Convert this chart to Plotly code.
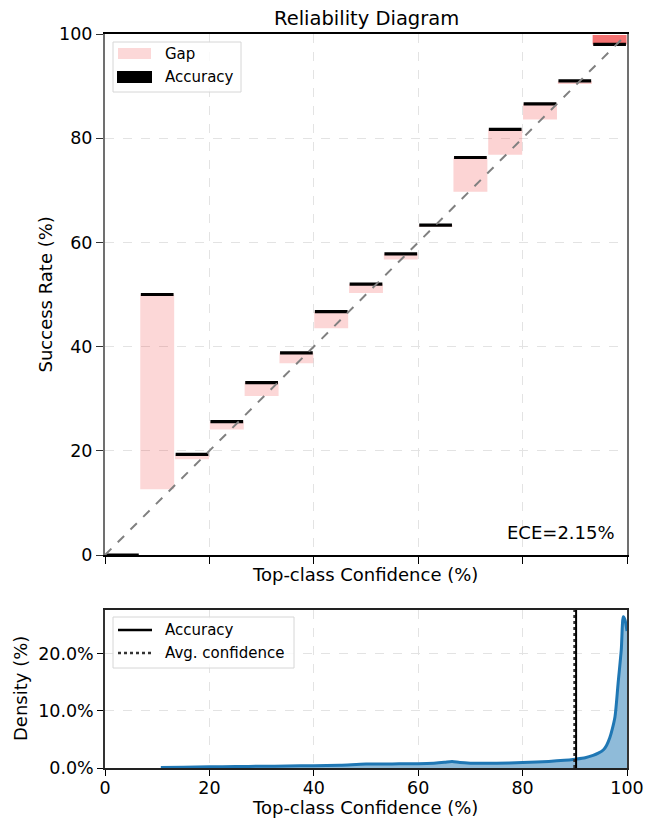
import plotly.graph_objects as go

# ---------------- data ----------------
n_bins = 15
bin_accuracy = [0.0, 50.0, 19.3, 25.6, 33.1, 38.8, 46.7, 52.0, 57.8, 63.3, 76.3, 81.7, 86.6, 91.0, 98.0]
bin_confidence = [0.0, 12.6, 18.4, 24.1, 30.5, 36.8, 43.5, 50.3, 56.7, 63.0, 69.7, 76.8, 83.6, 90.4, 99.8]
bin_fraction = [0.0, 0.002, 0.003, 0.004, 0.005, 0.006, 0.008, 0.012, 0.015, 0.02,
                0.025, 0.03, 0.04, 0.08, 0.65]
ece_text = "ECE=2.15%"

density_x = [10.7, 15, 20, 25, 30, 35, 40, 45, 50, 55, 60, 63, 65, 66.5, 68, 70, 75, 80,
             85, 88, 90, 92, 93.5, 94.5, 95.5, 96.1, 96.7, 97.2, 97.7, 98.3, 98.9, 99.3, 99.6, 100]
density_y = [0.1, 0.15, 0.2, 0.25, 0.3, 0.35, 0.4, 0.5, 0.7, 0.72, 0.75, 0.85, 1.0, 1.15,
             0.95, 0.85, 0.85, 0.95, 1.15, 1.35, 1.55, 1.8, 2.2, 2.6, 3.2, 4.0, 5.3, 6.9,
             9.0, 14.9, 20.7, 26.5, 26.0, 24.0]
overall_accuracy = 90.25
avg_confidence = 89.95

x_ticks = [0, 20, 40, 60, 80, 100]
y_ticks_top = [0, 20, 40, 60, 80, 100]
y_ticks_bottom = [0, 10, 20]
y_ticklabels_bottom = ["0.0%", "10.0%", "20.0%"]

# ---------------- derived ----------------
bw = 100.0 / n_bins
centers = [bw * (i + 0.5) for i in range(n_bins)]
gap_height = [abs(a - c) for a, c in zip(bin_accuracy, bin_confidence)]
gap_base = [min(a, c) for a, c in zip(bin_accuracy, bin_confidence)]
gap_colors = [f"rgba(240,60,60,{0.2 + 0.8 * f:.3f})" for f in bin_fraction]

acc_x, acc_y = [], []
for i, a in enumerate(bin_accuracy):
    l = bw * i + bw * 0.03
    r = bw * (i + 1) - bw * 0.03
    acc_x += [l, r, None]
    acc_y += [a, a, None]

FONT = "DejaVu Sans"
fig = go.Figure()

fig.add_trace(go.Bar(x=centers, y=gap_height, base=gap_base, width=bw * 0.975,
                     marker=dict(color=gap_colors, line=dict(width=0)),
                     xaxis="x", yaxis="y", showlegend=False, name="Gap"))
fig.add_trace(go.Scatter(x=acc_x, y=acc_y, mode="lines",
                         line=dict(color="black", width=3.2),
                         xaxis="x", yaxis="y", showlegend=False, name="Accuracy"))
fig.add_trace(go.Scatter(x=[0, 100], y=[0, 100], mode="lines",
                         line=dict(color="#808080", width=2, dash="dash"),
                         xaxis="x", yaxis="y", showlegend=False))

fig.add_trace(go.Scatter(x=density_x, y=density_y, mode="lines", fill="tozeroy",
                         fillcolor="rgba(31,119,180,0.5)",
                         line=dict(color="#1f77b4", width=3, shape="spline", smoothing=0.8),
                         xaxis="x2", yaxis="y2", showlegend=False))
fig.add_trace(go.Scatter(x=[avg_confidence, avg_confidence], y=[0, 30], mode="lines",
                         line=dict(color="#333333", width=2.5, dash="dot"),
                         xaxis="x2", yaxis="y2", showlegend=False))
fig.add_trace(go.Scatter(x=[overall_accuracy, overall_accuracy], y=[0, 30], mode="lines",
                         line=dict(color="black", width=2),
                         xaxis="x2", yaxis="y2", showlegend=False))

top_dom = [(768 - 555) / 734, 1.0]
bot_dom = [0.0, (768 - 610) / 734]
tickfont = dict(family=FONT, size=17.5, color="black")
grid = dict(showgrid=True, gridcolor="#e3e3e3", griddash="dash", gridwidth=1)

fig.update_layout(
    width=647, height=819,
    margin=dict(l=105, r=20, t=34, b=51, autoexpand=False),
    paper_bgcolor="white", plot_bgcolor="white",
    font=dict(family=FONT, color="black"),
    showlegend=False,
    xaxis=dict(domain=[0, 1], range=[0, 100], tickvals=x_ticks, showticklabels=False,
               ticks="outside", ticklen=7, tickwidth=1.2, tickcolor="black",
               showline=True, mirror=True, linecolor="black", linewidth=1.5,
               zeroline=False, anchor="y", automargin=False, **grid),
    yaxis=dict(domain=top_dom, range=[0, 100], tickvals=y_ticks_top, tickfont=tickfont,
               ticks="outside", ticklen=7, tickwidth=1.2, tickcolor="#333333",
               showline=True, mirror=True, linecolor="#707070", linewidth=2,
               zeroline=False, anchor="x", automargin=False, **grid),
    xaxis2=dict(domain=[0, 1], range=[0, 100], tickvals=x_ticks, tickfont=tickfont,
                ticks="outside", ticklen=6, tickwidth=1.2, tickcolor="black",
                ticklabelstandoff=-3,
                showline=True, mirror=True, linecolor="#222222", linewidth=1.5,
                zeroline=False, anchor="y2", automargin=False, **grid),
    yaxis2=dict(domain=bot_dom, range=[0, 27.7], tickvals=y_ticks_bottom,
                ticktext=y_ticklabels_bottom, tickfont=tickfont,
                ticks="outside", ticklen=6, tickwidth=1.2, tickcolor="black",
                showline=True, mirror=True, linecolor="#333333", linewidth=1.5,
                zeroline=False, anchor="x2", automargin=False, **grid),
)

ann = []
def A(text, x, y, size=18, **kw):
    d = dict(text=text, x=x, y=y, xref="paper", yref="paper", showarrow=False,
             font=dict(family=FONT, size=size, color="black"))
    d.update(kw)
    ann.append(d)

A("Reliability Diagram", 0.5, (768 - 19) / 734, size=19.5, xanchor="center", yanchor="middle")
A("Top-class Confidence (%)", (365 - 105) / 522, (768 - 574) / 734, xanchor="center", yanchor="middle")
A("Success Rate (%)", (45 - 105) / 522, (768 - 294.5) / 734, textangle=-90, xanchor="center", yanchor="middle")
A("Density (%)", (20 - 105) / 522, (768 - 689) / 734, textangle=-90, xanchor="center", yanchor="middle")
A("Top-class Confidence (%)", (365 - 105) / 522, (768 - 808) / 734, xanchor="center", yanchor="middle")
ann.append(dict(text=ece_text, x=0.98, y=0.02, xref="x domain", yref="y domain",
                xanchor="right", yanchor="bottom", showarrow=False,
                font=dict(family=FONT, size=18, color="black")))

def tx(px):
    return (px - 105) / 522
def ty_top(py):
    return (555 - py) / 521
def ty_bot(py):
    return (768 - py) / 158

shapes = []
shapes.append(dict(type="rect", xref="x domain", yref="y domain",
                   x0=tx(113), x1=tx(241), y0=ty_top(92), y1=ty_top(42),
                   line=dict(color="#d6d6d6", width=1), fillcolor="rgba(255,255,255,0.8)"))
shapes.append(dict(type="rect", xref="x domain", yref="y domain",
                   x0=tx(118), x1=tx(151), y0=ty_top(59), y1=ty_top(48),
                   line=dict(width=0), fillcolor=gap_colors[0]))
shapes.append(dict(type="rect", xref="x domain", yref="y domain",
                   x0=tx(117), x1=tx(152), y0=ty_top(83), y1=ty_top(71),
                   line=dict(width=0), fillcolor="black"))
ann.append(dict(text="Gap", x=tx(163), y=ty_top(54), xref="x domain", yref="y domain",
                xanchor="left", yanchor="middle", showarrow=False,
                font=dict(family=FONT, size=15, color="black")))
ann.append(dict(text="Accuracy", x=tx(163), y=ty_top(77), xref="x domain", yref="y domain",
                xanchor="left", yanchor="middle", showarrow=False,
                font=dict(family=FONT, size=15, color="black")))

shapes.append(dict(type="rect", xref="x2 domain", yref="y2 domain",
                   x0=tx(113), x1=tx(294), y0=ty_bot(668), y1=ty_bot(617),
                   line=dict(color="#d6d6d6", width=1), fillcolor="rgba(255,255,255,0.8)"))
shapes.append(dict(type="line", xref="x2 domain", yref="y2 domain",
                   x0=tx(118), x1=tx(152), y0=ty_bot(630), y1=ty_bot(630),
                   line=dict(color="black", width=2.5)))
shapes.append(dict(type="line", xref="x2 domain", yref="y2 domain",
                   x0=tx(118), x1=tx(152), y0=ty_bot(653), y1=ty_bot(653),
                   line=dict(color="#333333", width=2.5, dash="dot")))
ann.append(dict(text="Accuracy", x=tx(163), y=ty_bot(630), xref="x2 domain", yref="y2 domain",
                xanchor="left", yanchor="middle", showarrow=False,
                font=dict(family=FONT, size=15, color="black")))
ann.append(dict(text="Avg. confidence", x=tx(163), y=ty_bot(653), xref="x2 domain", yref="y2 domain",
                xanchor="left", yanchor="middle", showarrow=False,
                font=dict(family=FONT, size=15, color="black")))

fig.update_layout(annotations=ann, shapes=shapes)
fig.write_html("out.html", config={"displayModeBar": False},
               post_script="document.body.style.margin='0';document.body.style.overflow='hidden';")
